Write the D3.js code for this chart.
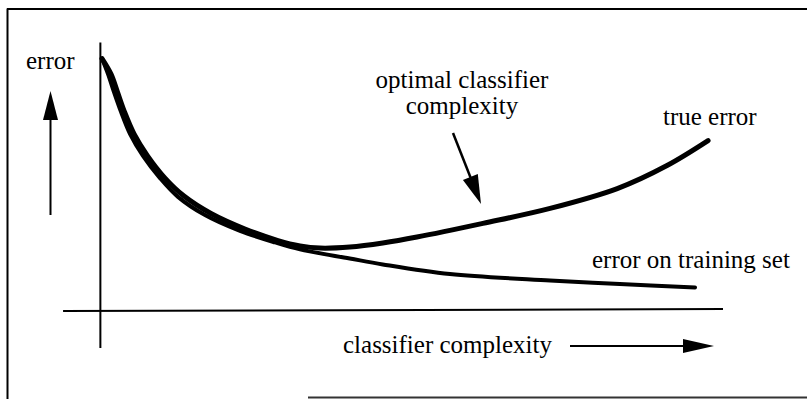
<!DOCTYPE html>
<html>
<head>
<meta charset="utf-8">
<script src="https://cdn.jsdelivr.net/npm/d3@7"></script>
<style>
  html, body { margin: 0; padding: 0; background: #fff; }
</style>
</head>
<body>
<svg id="chart" width="807" height="399"></svg>
<script>
// Classifier complexity (0..100, arbitrary units) and error (0..100, arbitrary units)
const trainComplexity = [0.16, 1.13, 2.09, 3.22, 4.66, 6.75, 9.49, 12.38, 16.72, 22.35, 27.97, 32.0, 40.0, 45.3, 56.1, 72.2, 83.4, 95.5];
const trainError      = [94.0, 88.2, 81.5, 74.1, 65.9, 57.7, 49.4, 42.4, 35.6, 29.7, 25.4, 22.8, 19.4, 17.2, 13.6, 11.2, 9.9, 8.6];

const trueComplexity  = [0.16, 1.61, 2.65, 3.78, 5.31, 7.48, 10.29, 13.34, 17.68, 23.15, 28.46, 32.0, 35.2, 40.0, 45.3, 50.8, 61.4, 72.2, 83.0, 91.0, 97.6];
const trueError       = [94.0, 88.2, 81.5, 74.1, 65.9, 57.7, 49.4, 42.7, 36.2, 30.4, 26.1, 24.1, 23.3, 23.7, 25.2, 27.4, 32.5, 38.1, 45.5, 54.1, 63.4];

const labels = {
  yAxis: "error",
  xAxis: "classifier complexity",
  optimal: ["optimal classifier", "complexity"],
  trueErr: "true error",
  trainErr: "error on training set"
};

// pick an installed Times-like serif font
function pickFont() {
  const cands = ["Liberation Serif", "Tinos", "Times New Roman", "Times", "Nimbus Roman", "Nimbus Roman No9 L",
                 "FreeSerif", "DejaVu Serif", "Noto Serif", "Source Serif Pro"];
  const ctx = document.createElement("canvas").getContext("2d");
  const probe = "classifier complexity WMmil";
  ctx.font = "25px monospace"; const wMono = ctx.measureText(probe).width;
  ctx.font = "25px sans-serif"; const wSans = ctx.measureText(probe).width;
  for (const c of cands) {
    ctx.font = `25px "${c}", monospace`; const a = ctx.measureText(probe).width;
    ctx.font = `25px "${c}", sans-serif`; const b = ctx.measureText(probe).width;
    if (a !== wMono && b !== wSans) return `"${c}", serif`;
    if (a !== wMono && Math.abs(a - b) < 0.01) return `"${c}", serif`;
  }
  return "serif";
}
const FONT = pickFont();

const svg = d3.select("#chart");
svg.append("rect").attr("width", 807).attr("height", 399).attr("fill", "#fff");

const x = d3.scaleLinear().domain([0, 100]).range([101, 723]);
const y = d3.scaleLinear().domain([0, 100]).range([310.5, 42.5]);

// Frame (scanned border)
const frame = svg.append("g").attr("stroke", "#000").attr("fill", "none");
frame.append("line").attr("x1", 7.5).attr("y1", 8.5).attr("x2", 7.5).attr("y2", 399).attr("stroke-width", 2);
frame.append("line").attr("x1", 7).attr("y1", 9).attr("x2", 807).attr("y2", 9).attr("stroke-width", 2);
frame.append("line").attr("x1", 308).attr("y1", 397.5).attr("x2", 807).attr("y2", 397.5).attr("stroke-width", 2).attr("stroke", "#333");

// Axes (plain lines, no ticks)
const axes = svg.append("g").attr("stroke", "#000").attr("stroke-width", 2);
axes.append("line").attr("x1", x(-6.1)).attr("y1", y(0) + 0.5).attr("x2", x(100)).attr("y2", y(0) - 1.5);
axes.append("line").attr("x1", x(-0.1)).attr("y1", y(100)).attr("x2", x(-0.1)).attr("y2", y(-14));

// Curves
const line = d3.line()
  .x(d => x(d[0]))
  .y(d => y(d[1]))
  .curve(d3.curveCatmullRom.alpha(0.5));

const trainData = trainComplexity.map((c, i) => [c, trainError[i]]);
const trueData  = trueComplexity.map((c, i) => [c, trueError[i]]);

svg.append("path").datum(trainData)
  .attr("d", line).attr("fill", "none").attr("stroke", "#000")
  .attr("stroke-width", 4).attr("stroke-linecap", "round");
svg.append("path").datum(trueData)
  .attr("d", line).attr("fill", "none").attr("stroke", "#000")
  .attr("stroke-width", 5).attr("stroke-linecap", "round");

// Arrow helper
function arrow(x1, y1, x2, y2, headLen, headHalf, w) {
  const dx = x2 - x1, dy = y2 - y1, L = Math.hypot(dx, dy);
  const ux = dx / L, uy = dy / L, px = -uy, py = ux;
  const bx = x2 - ux * headLen, by = y2 - uy * headLen;
  svg.append("line").attr("x1", x1).attr("y1", y1).attr("x2", bx + ux).attr("y2", by + uy)
    .attr("stroke", "#000").attr("stroke-width", w);
  svg.append("path")
    .attr("d", `M${x2},${y2}L${bx + px * headHalf},${by + py * headHalf}L${bx - px * headHalf},${by - py * headHalf}Z`)
    .attr("fill", "#000");
}

// y-axis direction arrow
arrow(50.5, 215, 50.5, 91, 29, 7.5, 2);
// x-axis direction arrow
arrow(570, 346, 714, 346, 31, 7, 2);
// optimal complexity pointer
arrow(453, 133, 481, 204, 29, 8, 2.5);

// Texts
function label(tx, ty, str, anchor) {
  svg.append("text")
    .attr("x", tx).attr("y", ty)
    .attr("text-anchor", anchor || "start")
    .style("font-family", FONT)
    .style("font-size", "25px")
    .attr("fill", "#000")
    .text(str);
}
label(26, 69, labels.yAxis);
label(462, 88, labels.optimal[0], "middle");
label(462, 114, labels.optimal[1], "middle");
label(663, 125, labels.trueErr);
label(592, 268, labels.trainErr);
label(343, 353, labels.xAxis);
</script>
</body>
</html>
